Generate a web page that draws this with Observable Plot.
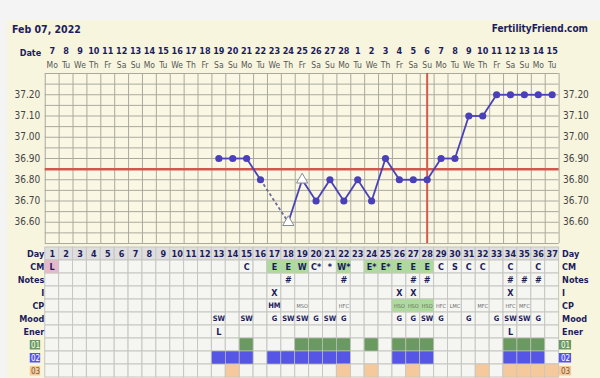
<!DOCTYPE html>
<html><head><meta charset="utf-8">
<script src="https://cdn.jsdelivr.net/npm/d3@7"></script>
<script src="https://cdn.jsdelivr.net/npm/@observablehq/plot@0.6"></script>
<style>
html,body{margin:0;padding:0;width:600px;height:378px;overflow:hidden;background:#f4f4f4;}
#panel{position:absolute;left:7px;top:20px;width:593px;height:358px;background:#f7f5de;}
.hdr{position:absolute;top:23px;font-family:"DejaVu Sans Condensed","Liberation Sans",sans-serif;font-weight:bold;color:#1c1c5c;}
#title{left:12px;font-size:10.5px;}
#brand{right:12px;font-size:10px;}
#temp{position:absolute;left:0;top:0;}
#table{position:absolute;left:0;top:243px;}
</style></head>
<body>
<div id="panel"></div>
<div id="title" class="hdr">Feb 07, 2022</div>
<div id="brand" class="hdr">FertilityFriend.com</div>
<div id="temp"></div>
<div id="table"></div>
<script>
// ---------- data ----------
const cycleDays = d3.range(1, 38);
const dateLabels = [7,8,9,10,11,12,13,14,15,16,17,18,19,20,21,22,23,24,25,26,27,28,1,2,3,4,5,6,7,8,9,10,11,12,13,14,15];
const weekdayLabels = ["Mo","Tu","We","Th","Fr","Sa","Su","Mo","Tu","We","Th","Fr","Sa","Su","Mo","Tu","We","Th","Fr","Sa","Su","Mo","Tu","We","Th","Fr","Sa","Su","Mo","Tu","We","Th","Fr","Sa","Su","Mo","Tu"];
const tempDays = [13,14,15,16,18,19,20,21,22,23,24,25,26,27,28,29,30,31,32,33,34,35,36,37];
const temps = [36.90,36.90,36.90,36.80,36.60,36.80,36.70,36.80,36.70,36.80,36.70,36.90,36.80,36.80,36.80,36.90,36.90,37.10,37.10,37.20,37.20,37.20,37.20,37.20];
const openDays = [18, 19];
const coverline = 36.85;
const ovulationDay = 28;
const tempTicks = [36.60,36.70,36.80,36.90,37.00,37.10,37.20];

const rowNames = ["Day","CM","Notes","I","CP","Mood","Ener","01","02","03"];
const cmDays = [1,15,17,18,19,20,21,22,24,25,26,27,28,29,30,31,32,34,36];
const cmText = ["L","C","E","E","W","C*","*","W*","E*","E*","E","E","E","C","S","C","C","C","C"];
const cmGreenDays = [17,18,19,22,24,25,26,27,28];
const cmPinkDays = [1];
const notesDays = [18,22,27,28,34,35,36];
const intercourseDays = [17,26,27,34];
const cpDays = [17,19,22,26,27,28,29,30,32,34,35];
const cpText = ["HM","MSO","HFC","HSO","HSO","HSO","HFC","LMC","MFC","HFC","MFC"];
const cpGreenDays = [26,27,28];
const moodDays = [13,15,17,18,19,20,21,22,26,27,28,29,31,33,34,35,36];
const moodText = ["SW","SW","G","SW","SW","G","SW","G","G","G","SW","G","G","G","SW","SW","G"];
const energyDays = [13,34];
const energyText = ["L","L"];
const custom01Days = [15,19,20,21,22,24,26,27,28,34,35,36];
const custom02Days = [13,14,15,17,18,19,20,21,22,26,27,28,34,35,36];
const custom03Days = [14,22,24,27,32,34,35,36,37];

// ---------- styles ----------
const FONT = '"DejaVu Sans Condensed","Liberation Sans",sans-serif';
const NAVY = "#1c1c5c";
const RED = "#d2584f";
const PURPLE = "#4a40b8";
const GRID = "#aaa99c";
const CELLGRID = "#c6c6c2";
const customColors = {"01": "#6b9a60", "02": "#5656e6", "03": "#f5c99b"};

const xScale = {domain: [0.5, 37.5]};
const ML = 44.75, MR = 41.4;

// ---------- temperature chart ----------
const pts = tempDays.map((d, i) => ({day: d, temp: temps[i], open: openDays.includes(d)}));
const segs = d3.pairs(pts).map(([a, b]) => ({x1: a.day, y1: a.temp, x2: b.day, y2: b.temp, gap: b.day - a.day > 1}));

const tempPlot = Plot.plot({
  width: 600, height: 243,
  marginTop: 73, marginBottom: 0, marginLeft: ML, marginRight: MR,
  x: {...xScale, axis: null},
  y: {domain: [36.5, 37.3], axis: null},
  style: {fontFamily: FONT, fontSize: "10px", background: "transparent", overflow: "visible"},
  marks: [
    Plot.frame({fill: "#faf8e4"}),
    Plot.ruleX(d3.range(0.5, 38, 1), {stroke: GRID, strokeWidth: 1}),
    Plot.ruleY(d3.range(0, 17).map(i => 36.5 + i * 0.05), {stroke: GRID, strokeWidth: 1}),
    Plot.ruleY([coverline], {stroke: RED, strokeWidth: 2.5}),
    Plot.ruleX([ovulationDay], {stroke: RED, strokeWidth: 2}),
    Plot.link(segs.filter(s => !s.gap), {x1: "x1", y1: "y1", x2: "x2", y2: "y2", stroke: PURPLE, strokeWidth: 1.8}),
    Plot.link(segs.filter(s => s.gap), {x1: "x1", y1: "y1", x2: "x2", y2: "y2", stroke: "#6d6a9c", strokeWidth: 1.8, strokeDasharray: "3,2.5"}),
    Plot.dot(pts.filter(p => !p.open), {x: "day", y: "temp", r: 3.6, fill: PURPLE}),
    Plot.dot(pts.filter(p => p.open), {x: "day", y: "temp", r: 4.2, symbol: "triangle", fill: "#ffffff", stroke: "#8a8a96", strokeWidth: 1}),
    Plot.axisY(tempTicks, {anchor: "left", tickFormat: d3.format(".2f"), tickSize: 0, tickPadding: 5, label: null, fill: "#444", fontSize: 10}),
    Plot.axisY(tempTicks, {anchor: "right", tickFormat: d3.format(".2f"), tickSize: 0, tickPadding: 4, label: null, fill: "#444", fontSize: 10}),
    Plot.text(cycleDays, {x: d => d, text: (d, i) => String(dateLabels[i]), frameAnchor: "top", dy: -26, fontWeight: "bold", fill: NAVY, fontSize: 9}),
    Plot.text(cycleDays, {x: d => d, text: (d, i) => weekdayLabels[i], frameAnchor: "top", dy: -12, fill: "#555", fontSize: 8.5}),
    Plot.text(["Date"], {frameAnchor: "top-left", dx: -4, dy: -24, textAnchor: "end", fontWeight: "bold", fill: NAVY, fontSize: 9})
  ]
});
document.getElementById("temp").append(tempPlot);

// ---------- table ----------
const allCells = rowNames.flatMap(r => cycleDays.map(d => ({row: r, day: d})));
const pickText = (days, texts, row) => days.map((d, i) => ({row, day: d, text: texts[i]}));
const same = (days, t) => days.map(() => t);

const coloredCells = [
  ...cmPinkDays.map(d => ({row: "CM", day: d, fill: "#e7b8cb"})),
  ...cmGreenDays.map(d => ({row: "CM", day: d, fill: "#addb9b"})),
  ...cpGreenDays.map(d => ({row: "CP", day: d, fill: "#addb9b"})),
  ...custom01Days.map(d => ({row: "01", day: d, fill: customColors["01"]})),
  ...custom02Days.map(d => ({row: "02", day: d, fill: customColors["02"]})),
  ...custom03Days.map(d => ({row: "03", day: d, fill: customColors["03"]}))
];

const boldTexts = [
  ...cycleDays.map(d => ({row: "Day", day: d, text: String(d)})),
  ...pickText(cmDays, cmText, "CM"),
  ...pickText(notesDays, same(notesDays, "#"), "Notes"),
  ...pickText(intercourseDays, same(intercourseDays, "X"), "I"),
  ...pickText(energyDays, energyText, "Ener")
];
const moodItems = pickText(moodDays, moodText, "Mood");
const cpItems = pickText(cpDays, cpText, "CP");

const customRows = ["01", "02", "03"];
const mainRows = rowNames.filter(r => !customRows.includes(r));
const tablePlot = Plot.plot({
  width: 600, height: 138,
  marginTop: 0, marginBottom: 0, marginLeft: ML, marginRight: MR,
  x: {...xScale, axis: null},
  y: {type: "band", domain: rowNames, padding: 0, axis: null},
  style: {fontFamily: FONT, fontSize: "10px", background: "transparent", overflow: "visible"},
  marks: [
    Plot.barX(allCells, {x1: d => d.day - 0.5, x2: d => d.day + 0.5, y: "row", fill: d => d.row === "Day" ? "#dedede" : "#f5f5f2", stroke: CELLGRID, strokeWidth: 1}),
    Plot.barX(coloredCells, {x1: d => d.day - 0.5, x2: d => d.day + 0.5, y: "row", fill: "fill", stroke: CELLGRID, strokeWidth: 0.6}),
    Plot.text(boldTexts, {x: "day", y: "row", text: "text", fontWeight: "bold", fill: NAVY, fontSize: 9}),
    Plot.text(moodItems, {x: "day", y: "row", text: "text", fontWeight: "bold", fill: NAVY, fontSize: 7.5}),
    Plot.text(cpItems.filter(d => d.text === "HM"), {x: "day", y: "row", text: "text", fontWeight: "bold", fill: NAVY, fontSize: 7.5}),
    Plot.text(cpItems.filter(d => d.text !== "HM"), {x: "day", y: "row", text: "text", fill: "#666", fontSize: 5.5}),
    // row labels, left and right
    Plot.text(mainRows, {y: d => d, text: d => d, frameAnchor: "left", dx: -1, textAnchor: "end", fontWeight: "bold", fill: NAVY, fontSize: 9}),
    Plot.text(mainRows, {y: d => d, text: d => d, frameAnchor: "right", dx: 3, textAnchor: "start", fontWeight: "bold", fill: NAVY, fontSize: 9}),
    Plot.barX(customRows, {x1: -0.58, x2: 0.17, y: d => d, fill: d => customColors[d], insetTop: 2, insetBottom: 1.5}),
    Plot.barX(customRows, {x1: 37.52, x2: 38.4, y: d => d, fill: d => customColors[d], insetTop: 2, insetBottom: 1.5}),
    Plot.text(customRows, {x: -0.2, y: d => d, text: d => d, fill: d => d === "03" ? "#7a5a3a" : "#ffffff", fontSize: 8}),
    Plot.text(customRows, {x: 37.96, y: d => d, text: d => d, fill: d => d === "03" ? "#7a5a3a" : "#ffffff", fontSize: 8})
  ]
});
document.getElementById("table").append(tablePlot);
</script>
</body></html>
